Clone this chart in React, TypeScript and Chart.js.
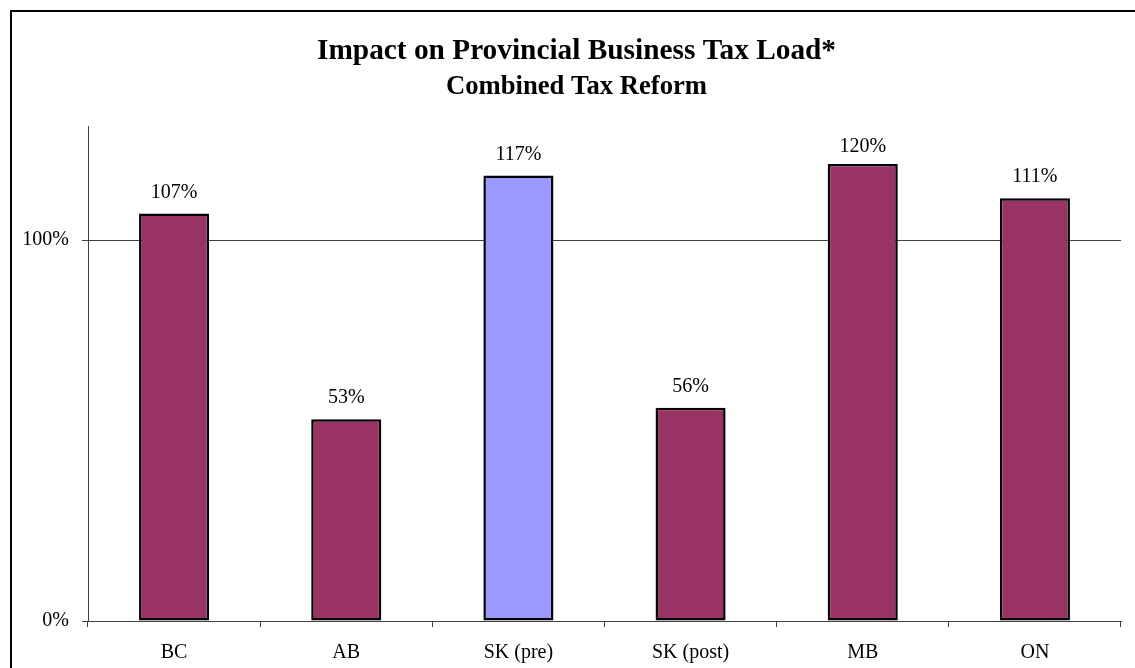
import React, { useEffect, useRef } from "react";
import { Chart, registerables } from "chart.js";

Chart.register(...registerables);

const categories = ["BC", "AB", "SK (pre)", "SK (post)", "MB", "ON"];
const values = [107, 53, 117, 56, 120, 111];
const barColors = ["#993366", "#993366", "#9999FF", "#993366", "#993366", "#993366"];
const titleText = "Impact on Provincial Business Tax Load*";
const subtitleText = "Combined Tax Reform";

const FONT = "'Liberation Serif', 'Times New Roman', serif";

const valueLabels = {
  id: "valueLabels",
  afterDatasetsDraw(chart: any) {
    const ctx = chart.ctx;
    const meta = chart.getDatasetMeta(0);
    const area = chart.chartArea;
    ctx.save();
    ctx.font = `20px ${FONT}`;
    ctx.fillStyle = "#000000";
    ctx.textAlign = "center";
    ctx.textBaseline = "alphabetic";
    meta.data.forEach((el: any, i: number) => {
      const y = Math.max(el.y - 16, area.top + 25.5);
      ctx.fillText(values[i] + "%", el.x, y);
    });
    ctx.restore();
  },
};

const header = {
  id: "header",
  afterDraw(chart: any) {
    const ctx = chart.ctx;
    const cx = chart.width / 2 + 9;
    ctx.save();
    ctx.fillStyle = "#000000";
    ctx.textAlign = "center";
    ctx.textBaseline = "alphabetic";
    ctx.font = `bold 29.33px ${FONT}`;
    ctx.fillText(titleText, cx, 59);
    ctx.font = `bold 26.67px ${FONT}`;
    ctx.fillText(subtitleText, cx, 94);
    ctx.restore();
  },
};

export default function App() {
  const ref = useRef<HTMLCanvasElement | null>(null);
  useEffect(() => {
    if (!ref.current) return;
    const chart = new Chart(ref.current, {
      type: "bar",
      data: {
        labels: categories,
        datasets: [
          {
            data: values,
            backgroundColor: barColors,
            borderColor: "#000000",
            borderWidth: 2.5,
            borderSkipped: false,
            barPercentage: 0.407,
            categoryPercentage: 1,
          },
        ],
      },
      options: {
        animation: false,
        responsive: true,
        maintainAspectRatio: false,
        layout: { padding: { left: 0, right: 14, top: 126, bottom: 3 } },
        plugins: {
          legend: { display: false },
          tooltip: { enabled: false },
          title: { display: false },
          subtitle: { display: false },
        },
        scales: {
          x: {
            offset: true,
            afterFit(scale: any) {
              scale.height = 44;
            },
            grid: {
              offset: true,
              drawOnChartArea: false,
              drawTicks: true,
              tickLength: 6,
              color: "#404040",
            },
            border: { display: true, color: "#404040", width: 1 },
            ticks: {
              color: "#000000",
              font: { family: FONT, size: 20 },
              padding: 14,
              maxRotation: 0,
            },
          },
          y: {
            min: 0,
            max: 130,
            afterFit(scale: any) {
              scale.width = 88;
            },
            grid: {
              drawTicks: true,
              tickLength: 6,
              color: "#404040",
            },
            border: { display: true, color: "#404040", width: 1 },
            ticks: {
              stepSize: 100,
              includeBounds: false,
              color: "#000000",
              font: { family: FONT, size: 20 },
              padding: 13,
              callback: (v: any) => v + "%",
            },
          },
        },
      },
      plugins: [valueLabels, header],
    });
    return () => chart.destroy();
  }, []);

  return (
    <div
      style={{
        position: "fixed",
        left: 0,
        top: 0,
        width: 1135,
        height: 668,
        overflow: "hidden",
        background: "#ffffff",
      }}
    >
      <div
        style={{
          position: "absolute",
          left: 10,
          top: 10,
          width: 1300,
          height: 900,
          border: "2px solid #000000",
        }}
      />
      <div style={{ position: "absolute", left: 0, top: 0, width: 1135, height: 668 }}>
        <canvas ref={ref} />
      </div>
    </div>
  );
}
